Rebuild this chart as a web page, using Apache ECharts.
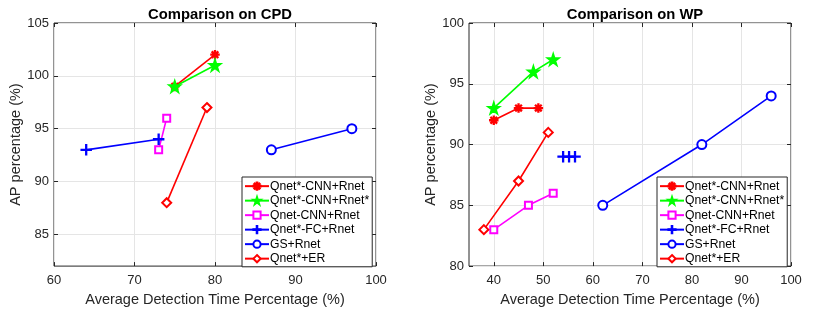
<!DOCTYPE html>
<html><head><meta charset="utf-8">
<script src="https://cdn.jsdelivr.net/npm/echarts@6/dist/echarts.min.js"></script>
<style>html,body{margin:0;padding:0;background:#fff}#c{width:830px;height:312px}</style>
</head><body><div id="c"></div>
<script>
// ---- data ----
const seriesNames = ['Qnet*-CNN+Rnet','Qnet*-CNN+Rnet*','Qnet-CNN+Rnet','Qnet*-FC+Rnet','GS+Rnet','Qnet*+ER'];
// CPD (left)
const cpdQnetCnnRnet   = [[75,99],[80,102]];
const cpdQnetCnnRnetS  = [[75,99],[80,101]];
const cpdQnetPlainCnn  = [[73,93],[74,96]];
const cpdQnetFcRnet    = [[64,93],[73,94]];
const cpdGsRnet        = [[87,93],[97,95]];
const cpdQnetEr        = [[74,88],[79,97]];
// WP (right)
const wpQnetCnnRnet    = [[40,92],[45,93],[49,93]];
const wpQnetCnnRnetS   = [[40,93],[48,96],[52,97]];
const wpQnetPlainCnn   = [[40,83],[47,85],[52,86]];
const wpQnetFcRnet     = [[54,89],[55.2,89],[56.4,89]];
const wpGsRnet         = [[62,85],[82,90],[96,94]];
const wpQnetEr         = [[38,83],[45,87],[51,91]];
// ticks
const cpdXTicks = [60,70,80,90,100];
const cpdYTicks = [85,90,95,100,105];
const wpXTicks  = [40,50,60,70,80,90,100];
const wpYTicks  = [80,85,90,95,100];

const FONT = '"Liberation Sans", Arial, sans-serif';
const AX = '#262626';
const asterisk = 'path://M0,4.5L10,4.5L10,5.5L0,5.5Z M4.5,0L5.5,0L5.5,10L4.5,10Z M1.854,1.146L8.854,8.146L8.146,8.854L1.146,1.854Z M8.854,1.854L1.854,8.854L1.146,8.146L8.146,1.146Z';
const star = 'path://M50,0L61.8,36.2L100,36.2L69.1,58.8L80.9,95.1L50,72.6L19.1,95.1L30.9,58.8L0,36.2L38.2,36.2Z';
const plus = 'path://M4.6,0L5.4,0L5.4,4.6L10,4.6L10,5.4L5.4,5.4L5.4,10L4.6,10L4.6,5.4L0,5.4L0,4.6L4.6,4.6Z';

const styles = [
  {color:'#ff0000', symbol:asterisk, size:8},
  {color:'#00ff00', symbol:star, size:12},
  {color:'#ff00ff', symbol:'emptyRect', size:7},
  {color:'#0000ff', symbol:plus, size:10},
  {color:'#0000ff', symbol:'emptyCircle', size:9},
  {color:'#ff0000', symbol:'emptyDiamond', size:9}
];
const cpdData = [cpdQnetCnnRnet,cpdQnetCnnRnetS,cpdQnetPlainCnn,cpdQnetFcRnet,cpdGsRnet,cpdQnetEr];
const wpData  = [wpQnetCnnRnet,wpQnetCnnRnetS,wpQnetPlainCnn,wpQnetFcRnet,wpGsRnet,wpQnetEr];

function mk(data, gi) {
  return data.map((d,i)=>({
    name: seriesNames[i], type:'line', xAxisIndex: gi*2, yAxisIndex: gi*2, data:d,
    symbol: styles[i].symbol, symbolSize: styles[i].size, showAllSymbol:true,
    lineStyle:{color:styles[i].color, width:1.6},
    itemStyle:{color:styles[i].color, borderColor:styles[i].color, borderWidth:1.5},
    emphasis:{disabled:true}, animation:false, z: 3
  }));
}

function xAxes(gi, min, max, ticks) {
  const base = {type:'value', gridIndex:gi, min:min, max:max,
    axisLine:{show:false}};
  return [
    Object.assign({}, base, {position:'bottom',
      name:'Average Detection Time Percentage (%)', nameLocation:'middle', nameGap:24,
      nameTextStyle:{fontFamily:FONT, fontSize:14.5, color:AX},
      axisTick:{show:true, inside:true, length:4, customValues:ticks, lineStyle:{color:AX}},
      axisLabel:{customValues:ticks, fontFamily:FONT, fontSize:13, color:AX, margin:8},
      splitLine:{show:true, lineStyle:{color:'#e5e5e5', width:1}}}),
    Object.assign({}, base, {position:'top',
      axisTick:{show:true, inside:true, length:4, customValues:ticks, lineStyle:{color:AX}},
      axisLabel:{show:false}, splitLine:{show:false}})
  ];
}
function yAxes(gi, min, max, ticks) {
  const base = {type:'value', gridIndex:gi, min:min, max:max, axisLine:{show:false}};
  return [
    Object.assign({}, base, {position:'left',
      name:'AP percentage (%)', nameLocation:'middle', nameGap:31,
      nameTextStyle:{fontFamily:FONT, fontSize:14.5, color:AX},
      axisTick:{show:true, inside:true, length:4, customValues:ticks, lineStyle:{color:AX}},
      axisLabel:{customValues:ticks, fontFamily:FONT, fontSize:13, color:AX, margin:5},
      splitLine:{show:true, lineStyle:{color:'#e5e5e5', width:1}}}),
    Object.assign({}, base, {position:'right',
      axisTick:{show:true, inside:true, length:4, customValues:ticks, lineStyle:{color:AX}},
      axisLabel:{show:false}, splitLine:{show:false}})
  ];
}
function legend(left) {
  return {
    orient:'vertical', left:left, top:177, width:126,
    data: seriesNames, backgroundColor:'#fff', borderColor:AX, borderWidth:1,
    padding:[3,3,2,2], itemWidth:24, itemHeight:9, itemGap:2.2,
    textStyle:{fontFamily:FONT, fontSize:12.2, color:'#000', padding:[0,0,0,-4], lineHeight:12.3},
    selectedMode:false, inactiveColor:'#000'
  };
}

const chart = echarts.init(document.getElementById('c'), null, {renderer:'canvas'});
chart.setOption({
  animation:false,
  backgroundColor:'#fff',
  title:[
    {text:'Comparison on CPD', left:215, top:2, textAlign:'center', textStyle:{fontFamily:FONT, fontSize:14.8, fontWeight:'bold', color:'#000'}},
    {text:'Comparison on WP', left:630, top:2, textAlign:'center', textStyle:{fontFamily:FONT, fontSize:14.8, fontWeight:'bold', color:'#000'}}
  ],
  grid:[
    {left:54, top:23, width:322, height:249, show:true, borderColor:AX, borderWidth:1, backgroundColor:'#fff'},
    {left:469, top:23, width:322, height:249, show:true, borderColor:AX, borderWidth:1, backgroundColor:'#fff'}
  ],
  xAxis: xAxes(0,60,100,cpdXTicks).concat(xAxes(1,35,100,wpXTicks)),
  yAxis: yAxes(0,82,105,cpdYTicks).concat(yAxes(1,80,100,wpYTicks)),
  legend:[legend(242), legend(657)],
  series: mk(cpdData,0).concat(mk(wpData,1))
});
</script></body></html>
